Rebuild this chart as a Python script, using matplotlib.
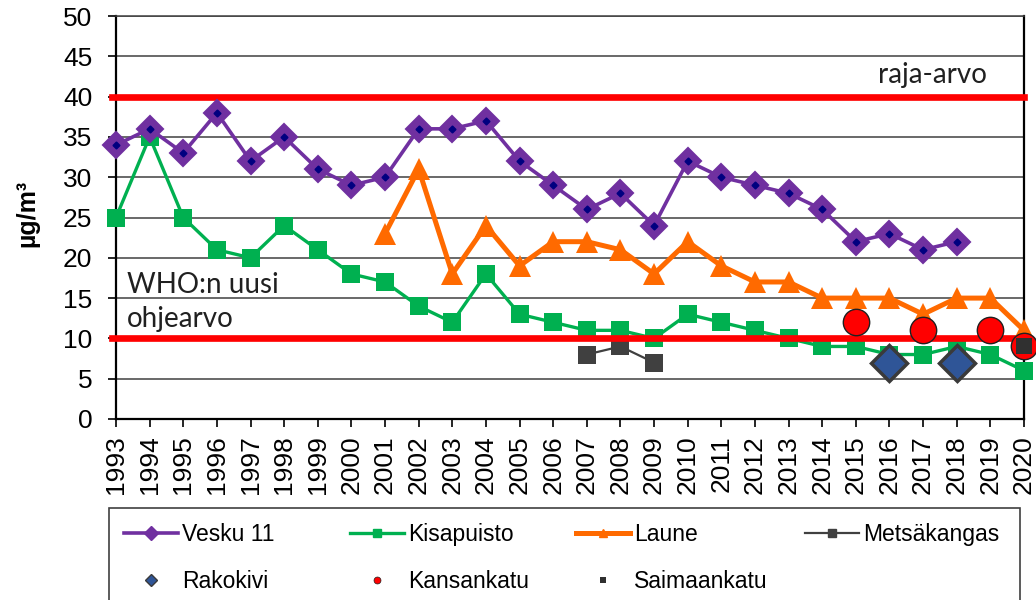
import matplotlib
matplotlib.use('Agg')
import matplotlib.pyplot as plt
from matplotlib.lines import Line2D
from matplotlib.patches import Rectangle

years = list(range(1993, 2021))

vesku_years = list(range(1993, 2019))
vesku = [34, 36, 33, 38, 32, 35, 31, 29, 30, 36, 36, 37, 32, 29, 26, 28, 24,
         32, 30, 29, 28, 26, 22, 23, 21, 22]

kisa_years = list(range(1993, 2021))
kisa = [25, 35, 25, 21, 20, 24, 21, 18, 17, 14, 12, 18, 13, 12, 11, 11, 10,
        13, 12, 11, 10, 9, 9, 8, 8, 9, 8, 6]

laune_years = list(range(2001, 2021))
laune = [23, 31, 18, 24, 19, 22, 22, 21, 18, 22, 19, 17, 17, 15, 15, 15, 13,
         15, 15, 11]

metsa_years = [2007, 2008, 2009]
metsa = [8, 9, 7]

rako_years = [2016, 2018]
rako = [7, 7]

kansan_years = [2015, 2017, 2019, 2020]
kansan = [12, 11, 11, 9]

saimaa_years = [2020]
saimaa = [9]

raja_arvo = 40
who_arvo = 10

W, H = 1036, 600
fig = plt.figure(figsize=(W / 100, H / 100), dpi=100)
ax = fig.add_axes([116 / W, 1 - 419 / H, (1024 - 116) / W, (419 - 16) / H])

# horizontal grid
ax.set_ylim(0, 50)
ax.set_xlim(1993, 2020)
ax.set_yticks(range(0, 51, 5))
ax.set_xticks(years)
ax.yaxis.grid(True, color='#404040', lw=1.1)
ax.set_axisbelow(True)
for s in ax.spines.values():
    s.set_color('black')
    s.set_linewidth(1.6)
ax.spines['top'].set_linewidth(1.1)
ax.spines['top'].set_color('#404040')

ax.tick_params(axis='y', length=6, width=1.2, pad=11, labelsize=19)
ax.tick_params(axis='x', length=5.5, width=1.2, pad=6, labelsize=19,
               rotation=90)
for lab in ax.get_xticklabels() + ax.get_yticklabels():
    lab.set_family('Liberation Sans')

# limit lines
ax.axhline(raja_arvo, color='#FF0000', lw=4.8, zorder=4, clip_on=False,
           xmin=-0.004)
ax.axhline(who_arvo, color='#FF0000', lw=4.8, zorder=4, clip_on=False,
           xmin=-0.004)

ax.plot(vesku_years, vesku, color='#7030A0', lw=2.6, marker='D', ms=13.5,
        mfc='#7030A0', mec='#7030A0', mew=1.5, zorder=5, clip_on=False)
ax.plot(vesku_years, vesku, ls='none', marker='D', ms=3.5, color='#000080',
        zorder=6, clip_on=False)
ax.plot(kisa_years, kisa, color='#00B050', lw=2.4, marker='s', ms=13.5,
        mew=0, zorder=3, clip_on=False)
ax.plot(laune_years, laune, color='#FF6A00', lw=3.6, marker='^', ms=16,
        mew=0, zorder=5, clip_on=False)
ax.plot(metsa_years, metsa, color='#404040', lw=1.6, marker='s', ms=13,
        mew=0, zorder=3, clip_on=False)
ax.plot(rako_years, rako, ls='none', marker='D', ms=18, mfc='#2F5597',
        mec='#3A3A3A', mew=2.5, zorder=6, clip_on=False)
ax.plot(kansan_years, kansan, ls='none', marker='o', ms=19, mfc='#FF0000',
        mec='#202020', mew=1, zorder=6, clip_on=False)
ax.plot(saimaa_years, saimaa, ls='none', marker='s', ms=12, mfc='#303030',
        mew=0, zorder=7, clip_on=False)

ax.text(2015.66, 41.7, 'raja-arvo', fontsize=20, family='Lato',
        va='baseline', ha='left', color='#202020')
ax.text(1993.33, 15.6, 'WHO:n uusi', fontsize=20, family='Lato',
        va='baseline', ha='left', color='#202020')
ax.text(1993.33, 11.4, 'ohjearvo', fontsize=20, family='Lato',
        va='baseline', ha='left', color='#202020')

fig.text(27 / W, 1 - 213 / H, 'µg/m³', rotation=90, fontsize=18,
         fontweight='bold', family='Liberation Sans', ha='center',
         va='center')

# legend, one column at a time
columns = [
    (124, [Line2D([], [], color='#7030A0', lw=2.6, marker='D', ms=7),
           Line2D([], [], ls='none', marker='D', ms=6, mfc='#2F5597',
                  mec='#3A3A3A')],
     ['Vesku 11', 'Rakokivi']),
    (350, [Line2D([], [], color='#00B050', lw=2.4, marker='s', ms=6),
           Line2D([], [], ls='none', marker='o', ms=5, mfc='#FF0000',
                  mec='#202020', mew=0.5)],
     ['Kisapuisto', 'Kansankatu']),
    (576, [Line2D([], [], color='#FF6A00', lw=3.6, marker='^', ms=6),
           Line2D([], [], ls='none', marker='s', ms=5, mfc='#303030',
                  mew=0)],
     ['Laune', 'Saimaankatu']),
    (805, [Line2D([], [], color='#404040', lw=1.6, marker='s', ms=6)],
     ['Metsäkangas']),
]
for x0, handles, labels in columns:
    fig.legend(handles, labels, loc='upper left',
               bbox_to_anchor=(x0 / W, 1 - 523 / H), frameon=False,
               borderpad=0, borderaxespad=0, handlelength=2.35,
               handletextpad=0.2, labelspacing=1.05,
               prop={'family': 'Liberation Sans', 'size': 16.5})

fig.add_artist(Rectangle((109 / W, -0.01), (1020 - 109) / W,
                         0.01 + 1 - 508 / H, transform=fig.transFigure,
                         fill=False, edgecolor='#404040', lw=1.2))

fig.savefig('out.png', dpi=100)
